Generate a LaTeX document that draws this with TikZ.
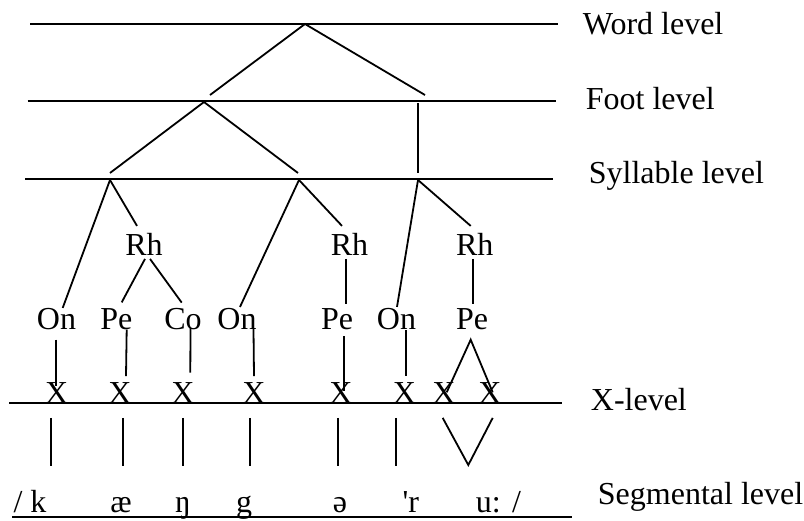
\documentclass[tikz,border=0pt]{standalone}
\usepackage{fontspec}
\setmainfont{Liberation Serif}
\newfontfamily\plainserif{Liberation Serif}
\usetikzlibrary{calc}
\begin{document}
\begin{tikzpicture}[x=0.5pt,y=-0.5pt,line width=0.9pt,
  lab/.style={inner sep=0pt,anchor=base,font=\fontsize{16}{19}\selectfont},
  lvl/.style={inner sep=0pt,anchor=base west,font=\fontsize{16}{19}\selectfont}]
\useasboundingbox (0,0) rectangle (804,520);
% level lines
\coordinate (wlA) at (30,24);   \coordinate (wlB) at (558,24);
\coordinate (flA) at (27.5,100.7); \coordinate (flB) at (555.7,100.7);
\coordinate (slA) at (25,179.3); \coordinate (slB) at (553,179.3);
\coordinate (xlA) at (9,403.3); \coordinate (xlB) at (561.5,403.3);
\coordinate (glA) at (12,516.7); \coordinate (glB) at (572,516.7);
\draw (wlA) -- (wlB);
\draw (flA) -- (flB);
\draw (slA) -- (slB);
\draw (xlA) -- (xlB);
\draw (glA) -- (glB);
% level labels
\node[lvl] (lw) at (582,34.3) {Word level};
\node[lvl] (lf) at (585,109) {Foot level};
\node[lvl] (ls) at (588,183.3) {Syllable level};
\node[lvl] (lx) at (590,410) {X-level};
\node[lvl] (lg) at (597,504) {Segmental level};
% tree points
\coordinate (w) at (305,24);
\coordinate (wl) at (210,95);
\coordinate (wr) at (425,95);
\coordinate (fa) at (204,102);
\coordinate (fb) at (418.3,103);
\coordinate (f1) at (110,173);
\coordinate (f2) at (298,173);
\coordinate (f3) at (418.3,173);
\coordinate (s1) at (110,180);
\coordinate (s2) at (299,180);
\coordinate (s3) at (418,180);
\draw (wl) -- (w) -- (wr);
\draw (f1) -- (fa) -- (f2);
\draw (fb) -- (f3);
% rhymes
\node[lab] (rh1) at (144,255) {Rh};
\node[lab] (rh2) at (349.5,255) {Rh};
\node[lab] (rh3) at (474.7,255) {Rh};
% onsets, peaks, codas
\node[lab] (on1) at (56.5,329) {On};
\node[lab] (pe1) at (116.3,329) {Pe};
\node[lab] (co1) at (183,329) {Co};
\node[lab] (on2) at (237,329) {On};
\node[lab] (pe2) at (337,329) {Pe};
\node[lab] (on3) at (396.5,329) {On};
\node[lab] (pe3) at (472,329) {Pe};
% X slots
\node[lab] (x1) at (56.7,403) {X};
\node[lab] (x2) at (120,403) {X};
\node[lab] (x3) at (183,403) {X};
\node[lab] (x4) at (254,403) {X};
\node[lab] (x5) at (341,403) {X};
\node[lab] (x6) at (404.5,403) {X};
\node[lab] (x7) at (444,403) {X};
\node[lab] (x8) at (490,403) {X};
% segments
\node[lvl] (g1) at (12.7,512.7) {/ k};
\node[lab] (g2) at (121,512.7) {æ};
\node[lab] (g3) at (183,512.7) {ŋ};
\node[lab] (g4) at (244,512.7) {g};
\node[lab] (g5) at (340,512.7) {ə};
\node[lvl] (g6) at (401.7,512.7) {\plainserif 'r};
\node[lvl] (g7) at (475,512.7) {u:};
\node[lab] (g8) at (516.5,512.7) {/};
% syllable branches
\draw (s1) -- ($(on1.north)+(6.2,1)$);
\draw (s1) -- ($(rh1.north)+(-7,-6)$);
\draw (s2) -- ($(on2.north)+(3,0)$);
\draw (s2) -- ($(rh2.north)+(-7.5,-6)$);
\draw (s3) -- ($(on3.north)+(0.5,0)$);
\draw (s3) -- ($(rh3.north)+(-4,-6)$);
% rhyme branches
\draw ($(rh1.south)+(1,3)$) -- ($(pe1.north)+(5.4,-4.8)$);
\draw ($(rh1.south)+(6,3)$) -- ($(co1.north)+(-1.3,-4.3)$);
\draw ($(rh2.south)+(-3.5,3)$) -- ($(pe2.north)+(9,-3)$);
\draw ($(rh3.south)+(-2,3)$) -- ($(pe3.north)+(0.7,-3)$);
% to X slots
\draw ($(on1.south)+(-0.5,9.3)$) -- ($(x1.north)+(-0.7,5)$);
\draw ($(pe1.south)+(10.4,-0.7)$) -- ($(x2.north)+(6,-5)$);
\draw ($(co1.south)+(7.5,-2)$) -- ($(x3.north)+(7.3,-8.5)$);
\draw ($(on2.south)+(16.5,-1)$) -- ($(x4.north)+(0,-5)$);
\draw ($(pe2.south)+(7,6)$) -- ($(x5.north)+(3,10)$);
\draw ($(on3.south)+(9.5,0)$) -- ($(x6.north)+(1.5,-5)$);
\coordinate (p3) at ($(pe3.south)+(-1.3,9.5)$);
\draw ($(x7.north)+(2.7,11.2)$) -- (p3) -- ($(x8.north)+(2.7,11.2)$);
% X to segments
\draw ($(x1.south)+(-5.7,14)$) -- ($(x1.south)+(-5.7,62)$);
\draw ($(x2.south)+(3.3,14)$) -- ($(x2.south)+(3.3,62)$);
\draw ($(x3.south)+(0.3,14)$) -- ($(x3.south)+(0.3,62)$);
\draw ($(x4.south)+(-4,14)$) -- ($(x4.south)+(-4,62)$);
\draw ($(x5.south)+(-2.7,14)$) -- ($(x5.south)+(-2.7,62)$);
\draw ($(x6.south)+(-8.5,14)$) -- ($(x6.south)+(-8.5,62)$);
\coordinate (uv) at (468.3,465);
\draw ($(x7.south)+(-1.3,14)$) -- (uv) -- ($(x8.south)+(2.7,14)$);
\end{tikzpicture}
\end{document}
